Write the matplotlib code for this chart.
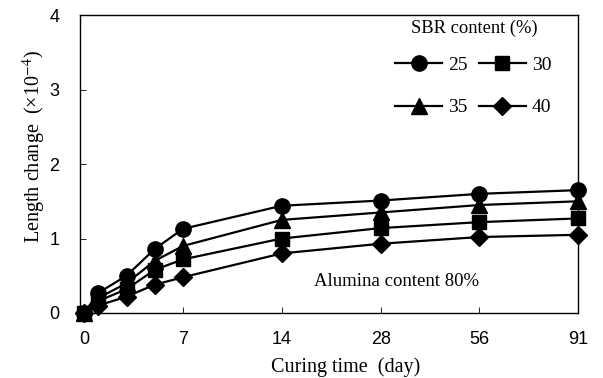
import numpy as np
import matplotlib
matplotlib.use('Agg')
import matplotlib.pyplot as plt

plt.rcParams['mathtext.fontset'] = 'stix'

# curing time (days) and length change (x1e-4) for each SBR content
tick_days = [0, 7, 14, 28, 56, 91]
days = [0, 1, 3, 5, 7, 14, 28, 56, 91]
sbr25 = [0, 0.27, 0.50, 0.86, 1.13, 1.44, 1.51, 1.60, 1.65]
sbr30 = [0, 0.16, 0.32, 0.58, 0.72, 1.00, 1.14, 1.22, 1.27]
sbr35 = [0, 0.20, 0.40, 0.70, 0.90, 1.25, 1.35, 1.45, 1.50]
sbr40 = [0, 0.10, 0.22, 0.38, 0.48, 0.80, 0.93, 1.02, 1.05]

# ticks are equally spaced, days in between placed linearly
xpos = np.interp(days, tick_days, np.arange(len(tick_days)))

fig = plt.figure(figsize=(6.03, 3.78), dpi=100)
ax = fig.add_axes([0.133, 0.172, 0.826, 0.788])

series = [(sbr25, 'o', '25'), (sbr30, 's', '30'), (sbr35, '^', '35'), (sbr40, 'D', '40')]
msize = {'o': 11, 's': 10, '^': 11, 'D': 9}
handles = {}
for vals, mk, lab in series:
    h, = ax.plot(xpos, vals, color='black', lw=1.6, marker=mk, ms=msize[mk],
                 markerfacecolor='black', clip_on=False, label=lab, zorder=3)
    handles[lab] = h

ax.set_xlim(-0.04, 5.0)
ax.set_ylim(0, 4)
ax.set_xticks(np.arange(len(tick_days)))
ax.set_xticklabels([str(d) for d in tick_days], fontfamily='Liberation Sans', fontsize=13)
ax.set_yticks([0, 1, 2, 3, 4])
ax.set_yticklabels(['0', '1', '2', '3', '4'], fontfamily='Liberation Sans', fontsize=13)
ax.tick_params(axis='x', direction='in', length=4, width=0.6, pad=13)
ax.tick_params(axis='y', direction='in', length=4, width=0.6, pad=15)
for s in ax.spines.values():
    s.set_linewidth(1.0)

ax.set_xlabel('Curing time  (day)', fontfamily='Liberation Serif', fontsize=14.5)
ax.xaxis.set_label_coords(0.532, -0.15)
ax.set_ylabel('Length change  (×10$^{-4}$)', fontfamily='Liberation Serif', fontsize=14.5)
ax.yaxis.set_label_coords(-0.064, 0.56)

ax.text(0.636, 0.105, 'Alumina content 80%', transform=ax.transAxes, ha='center', va='center',
        fontfamily='Liberation Serif', fontsize=13.5)

# legend title drawn separately so the rows can sit closer to it
ax.text(0.791, 0.956, 'SBR content (%)', transform=ax.transAxes, ha='center', va='center',
        fontfamily='Liberation Serif', fontsize=13.3)
leg = ax.legend([handles['25'], handles['35'], handles['30'], handles['40']],
                ['25', '35', '30', '40'], ncol=2,
                loc='upper left', bbox_to_anchor=(0.633, 0.863), frameon=False,
                prop={'family': 'Liberation Serif', 'size': 14},
                handlelength=2.4, handletextpad=0.3, columnspacing=0.6, labelspacing=1.3,
                borderaxespad=0, borderpad=0)

fig.savefig('out.png', dpi=100)
